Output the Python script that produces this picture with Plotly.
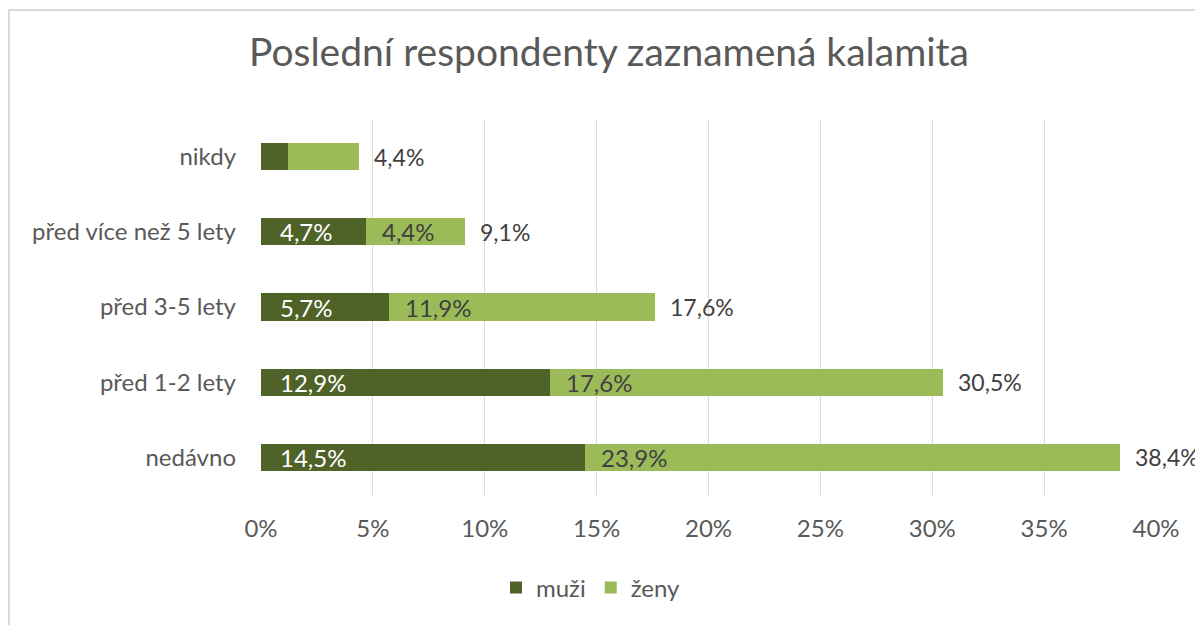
import plotly.graph_objects as go

categories = ["nedávno", "před 1-2 lety", "před 3-5 lety", "před více než 5 lety", "nikdy"]
muzi = [14.5, 12.9, 5.7, 4.7, 1.2]
zeny = [23.9, 17.6, 11.9, 4.4, 3.2]
totals = [38.4, 30.5, 17.6, 9.1, 4.4]
show_inside = [True, True, True, True, False]
x_ticks = [0, 5, 10, 15, 20, 25, 30, 35, 40]

FONT = "Lato"
DARK = "#4f6228"
LIGHT = "#9bbb59"
TXT = "#595959"
LBL = "#404040"
FS = 24

def fmt(v):
    return f"{v:.1f}".replace(".", ",") + "%"

OFF = 8  # page body margin
W, H = 1203 - OFF, 625 - OFF
# screen-pixel targets
plot_left, plot_right, plot_top, plot_bottom = 261, 1156, 119, 495
ml = plot_left - OFF
mr = W - (plot_right - OFF)
mt = plot_top - OFF
mb = H - (plot_bottom - OFF)
pw = W - ml - mr
ph = H - mt - mb

def px(xs):
    return (xs - OFF - ml) / pw

def py(ys):
    return (H - mb - (ys - OFF)) / ph

fig = go.Figure()
fig.add_trace(go.Bar(
    y=categories, x=muzi, name="muži", orientation="h",
    marker=dict(color=DARK, line=dict(width=0)), textposition="none",
    hoverinfo="x+y",
))
fig.add_trace(go.Bar(
    y=categories, x=zeny, name="ženy", orientation="h",
    marker=dict(color=LIGHT, line=dict(width=0)), textposition="none",
    hoverinfo="x+y",
))

annotations = []
for c, m, z, t, s in zip(categories, muzi, zeny, totals, show_inside):
    if s:
        annotations.append(dict(x=0, y=c, xref="x", yref="y", text=fmt(m), showarrow=False,
                                xanchor="left", xshift=17,
                                font=dict(size=FS, color="white", family=FONT)))
        annotations.append(dict(x=m, y=c, xref="x", yref="y", text=fmt(z), showarrow=False,
                                xanchor="left", xshift=14,
                                font=dict(size=FS, color=LBL, family=FONT)))
    annotations.append(dict(x=t, y=c, xref="x", yref="y", text=fmt(t), showarrow=False,
                            xanchor="left", xshift=13,
                            font=dict(size=23, color=LBL, family=FONT)))

fig.update_layout(
    width=W, height=H,
    margin=dict(l=ml, r=mr, t=mt, b=mb),
    paper_bgcolor="white", plot_bgcolor="white",
    barmode="stack", bargap=0.64,
    title=dict(text="Poslední respondenty zaznamená kalamita", x=px(609), xref="paper",
               xanchor="center", y=1 - (52 - OFF) / H, yanchor="middle",
               font=dict(size=39, color=TXT, family=FONT)),
    xaxis=dict(range=[0, 40], tickvals=x_ticks, ticktext=[f"{v}%" for v in x_ticks],
               showgrid=True, gridcolor="#d9d9d9", gridwidth=1, zeroline=False,
               showline=False, ticks="", ticklabelstandoff=17,
               tickfont=dict(size=FS, color=TXT, family=FONT), fixedrange=True),
    yaxis=dict(categoryorder="array", categoryarray=categories, showgrid=False,
               zeroline=False, showline=False, ticks="", ticklabelstandoff=24,
               tickfont=dict(size=FS, color=TXT, family=FONT), fixedrange=True),
    legend=dict(orientation="h", x=px(591), xanchor="center", y=py(588), yanchor="middle",
                font=dict(size=FS, color=TXT, family=FONT), itemwidth=30,
                traceorder="normal"),
    annotations=annotations,
    shapes=[dict(type="rect", xref="paper", yref="paper",
                 x0=px(9), x1=px(1203 + 40), y0=py(625 + 40), y1=py(10),
                 line=dict(color="#d9d9d9", width=2), fillcolor="rgba(0,0,0,0)", layer="below")],
    separators=", ",
)

fig.write_html("out.html")
